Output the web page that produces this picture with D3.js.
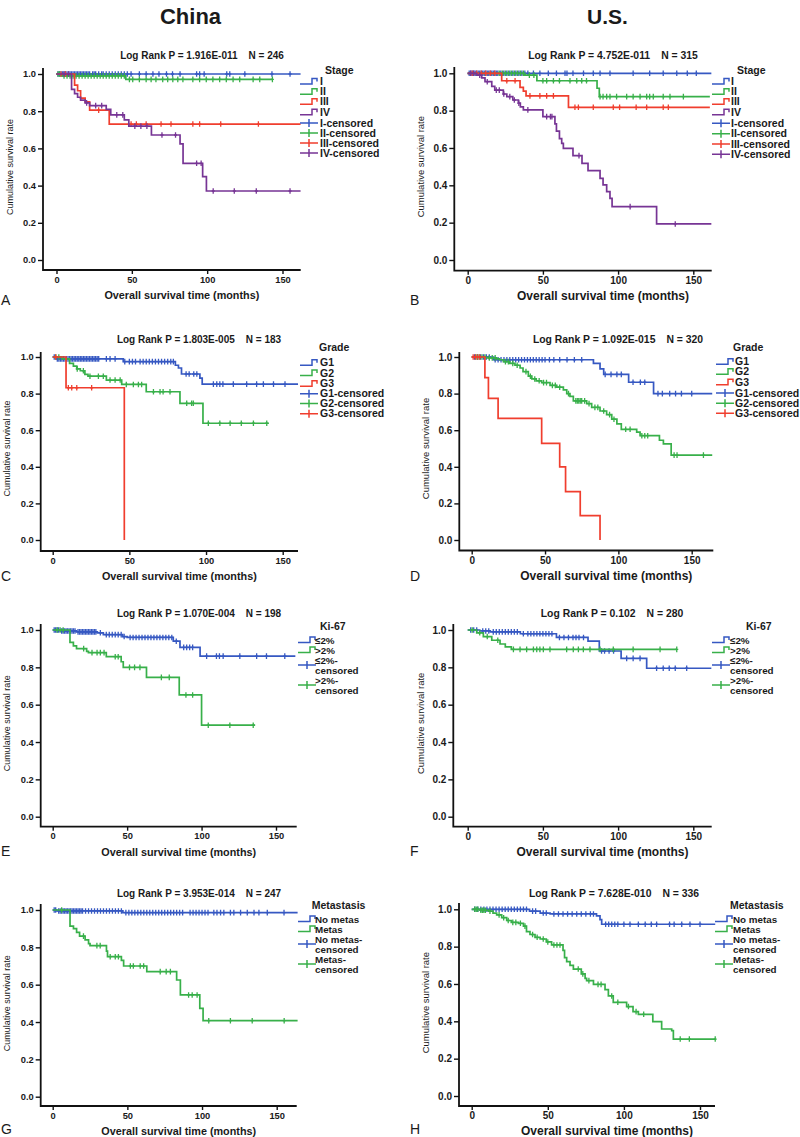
<!DOCTYPE html>
<html><head><meta charset="utf-8">
<script src="https://cdn.jsdelivr.net/npm/d3@7"></script>
<style>
body{margin:0;background:#fff}
svg{display:block}
text{font-family:"Liberation Sans",Arial,sans-serif;fill:#1a1a1a}
</style>
</head><body>
<svg id="chart" width="800" height="1137"></svg>
<script>
// ---------------- DATA ----------------
const xTicks = [0, 50, 100, 150];
const yTicks = [0.0, 0.2, 0.4, 0.6, 0.8, 1.0];
const columnTitles = ["China", "U.S."];

// Panel A: China, Stage
const A_I_steps = [[0,1]];
const A_I_end = 162;
const A_I_censored = [1,2,3,4,5,6,7,8,9,10,11,12,13,14,15,16,17,18,19,20,21,22,24,25,26,28,30,31,33,35,37,39,41,43,45,47,49.5,55,59.5,64,68,73,77,82,93,95,98,113,115,125,143,155];
const A_II_steps = [[0,1],[3,0.99],[46,0.971]];
const A_II_end = 143.3;
const A_II_censored = [1,2,5,7,9,11,13,15,17,19,21,23,25,27,29,31,33,35,37,39,41,43,45,48.4,50.6,55,59.5,62.8,66,70.5,73.8,77.2,80.5,83.9,90.5,95,99.4,103.8,108.3,112.7,117.2,121.6,130.5,134.9,143.3];
const A_III_steps = [[0,1],[12,0.94],[14,0.91],[16,0.87],[19,0.85],[22,0.806],[35,0.731]];
const A_III_end = 162;
const A_III_censored = [3,6,28,49.5,53,59.5,69.4,76,90.5,95,109,134];
const A_IV_steps = [[0,1],[10,0.917],[12,0.895],[14,0.875],[16,0.86],[19,0.845],[22,0.83],[33,0.81],[36,0.78],[45,0.753],[48,0.72],[63,0.672],[82,0.624],[84,0.52],[97,0.448],[99.5,0.371]];
const A_IV_end = 162;
const A_IV_censored = [5,8,20,26,30,40,44,52,56,60,70,79,93,96,104,118,132.6,155];

// Panel B: U.S., Stage
const B_I_steps = [[0,1]];
const B_I_end = 162;
const B_I_censored = [1,2,3,4,5,6,7,8,9,10,11,12,13,14,15,16,17,18,19,20,22,24,26,28,30,32,34,36,38,40,43.7,48,53.6,59,64.7,66,70,77,83.5,88,94.6,110,121,130,139,146,152];
const B_II_steps = [[0,1],[38,0.99],[46,0.96],[86,0.92],[87.5,0.875]];
const B_II_end = 161;
const B_II_censored = [21,23,25,27,29,31,33,35,37,41,44,50,52.5,57,61,68,72.5,75.8,79,88,90,92.4,94.6,99,105.7,110,114.6,119,121,123.4,130,134.5,143.4];
const B_III_steps = [[0,1],[22.6,0.96],[34.8,0.925],[37,0.905],[38.8,0.879],[67,0.818]];
const B_III_end = 161;
const B_III_censored = [3,6,9,12,15,18,26,31.5,41.4,48,52.5,57,71.3,73.6,83.5,96.8,101,112,119,130,133.4];
const B_IV_steps = [[0,1],[6,0.99],[9.3,0.975],[11.5,0.955],[16,0.93],[18,0.91],[23.7,0.889],[26,0.875],[30,0.857],[33.7,0.84],[35,0.82],[37,0.804],[50,0.768],[58,0.729],[59,0.69],[61,0.65],[62.5,0.625],[63.6,0.598],[70,0.559],[76,0.518],[80,0.479],[88,0.4375],[90,0.402],[92.4,0.366],[94.6,0.33],[96,0.286],[125.6,0.193]];
const B_IV_end = 162;
const B_IV_censored = [2,4,8,13,19,21,24,28,31,34,40,52.5,55,56,74,108,138];

// Panel C: China, Grade
const C_G1_steps = [[0,1],[2.6,0.99],[46,0.975],[80,0.955],[82,0.94],[84,0.907],[96,0.885],[97.5,0.852]];
const C_G1_end = 160;
const C_G1_censored = [1,3,4,5,6,7,8,9,10,11,12,13,14,15,16,17,18,19,20,21,22,23,24,25,26,27,28,29,30,35,37.4,40.7,47,50,52,54,57,59,61,63,65,67,69,71,73,75,77,78.7,87,89,92,94,104.8,107,109,111,117.8,126.5,133,137.4,144,151.5];
const C_G2_steps = [[0,1],[6,0.99],[11,0.965],[13.5,0.95],[15.7,0.935],[18,0.925],[21,0.905],[23,0.895],[35,0.874],[45,0.85],[61,0.81],[83,0.747],[98,0.638]];
const C_G2_end = 141;
const C_G2_censored = [2,4,16,20,24.3,29.8,33,37.4,40.7,44,48,52.6,55.9,58,65.7,70,72,76.5,87.4,90.6,91.7,101.5,109,115.7,123,130.9,139.6];
const C_G3_steps = [[0,1],[8.7,0.832],[46.7,0]];
const C_G3_end = 46.7;
const C_G3_censored = [2,10.2,12.4,15.7,25.4];

// Panel D: U.S., Grade
const D_G1_steps = [[0,1],[15,0.985],[83,0.965],[87.5,0.935],[90,0.905],[107,0.862],[124,0.80]];
const D_G1_end = 164;
const D_G1_censored = [2,4,6,8,10,12,16,18,20,22,24,26,28,30,32,34,36,38,40,42,44,46,48,50,53,56,60,65,70,75,91,95,99,102,110,115,118,127,130,135,139,143,150];
const D_G2_steps = [[0,1],[10,0.995],[17,0.99],[19,0.985],[21.6,0.975],[26,0.965],[29.5,0.955],[33,0.94],[35,0.92],[38.6,0.895],[41,0.88],[44,0.87],[47.7,0.86],[53.4,0.845],[58,0.835],[62.5,0.82],[64.8,0.80],[67,0.785],[69.3,0.76],[78.4,0.745],[81.8,0.725],[87.5,0.705],[92,0.685],[95.5,0.66],[99,0.635],[102,0.605],[112.5,0.59],[114.8,0.57],[128,0.545],[130.7,0.525],[136,0.464]];
const D_G2_end = 164;
const D_G2_censored = [3,5,7,9,12,14,16,23,25,28,31,37,40,43,46,49,51,55,57,60,66,71,72,73,74,75,77,80,84,86,90,94,97,105,108,116,118,120,138,140,158];
const D_G3_steps = [[0,1],[9,0.887],[11.4,0.774],[18,0.665],[47.7,0.528],[60,0.40],[64,0.264],[74,0.133],[87.5,0]];
const D_G3_end = 87.5;
const D_G3_censored = [1,2.5,4,5.5];

// Panel E: China, Ki-67
const E_low_steps = [[0,1],[5,0.995],[16,0.99],[30,0.985],[34,0.975],[47,0.965],[50,0.96],[81,0.94],[85.5,0.907],[99,0.86]];
const E_low_end = 163;
const E_low_censored = [1,2,3,4,6,7,8,9,10,11,12,13,14,15,17,18,19,20,21,22,23,24,25,26,27,28,29,32,36,38,40,42,44,46,48,52,54,56,58,60,62,64,66,68,70,72,74,76,78,80,83,88,90,92,94,103.4,110,112,114.5,125.7,137,143.6,155.9];
const E_high_steps = [[0,1],[11.6,0.934],[13.9,0.915],[16,0.90],[22.8,0.885],[24,0.879],[36,0.857],[46,0.83],[47.4,0.80],[63,0.746],[85,0.652],[100,0.49]];
const E_high_end = 136;
const E_high_censored = [3,5,7,20.8,26.4,29.8,32,34.5,42,44,51.6,55,58.6,73,78.3,89.5,94,104.5,119,134.7];

// Panel F: U.S., Ki-67
const F_low_steps = [[0,1],[8,0.995],[15,0.99],[35,0.98],[59,0.96],[80,0.94],[87.5,0.8875],[102,0.848],[119,0.795]];
const F_low_end = 162;
const F_low_censored = [2,4,6,10,12,14,17,19,21,23,25,27,29,31,33,37,40,42,44,46,48,50,52,54,56,61,64,67,70,72,74,77,89,91,94,97,105.7,110,114.6,125.6,130,134,138,145.6];
const F_high_steps = [[0,1],[6,0.985],[10.4,0.965],[16,0.945],[21.5,0.925],[25,0.91],[29,0.896]];
const F_high_end = 139;
const F_high_censored = [3,8,13,20,30.4,34.8,39.2,43.7,45.9,48,50.3,54.7,65.8,70.2,73.6,76.9,81.3,88,96.8,110,127.9,139];

// Panel G: China, Metastasis
const G_no_steps = [[0,1],[2.7,0.995],[47,0.986]];
const G_no_end = 164;
const G_no_censored = [1,2,4,5,6,7,8,9,10,11,12,13,14,15,16,17,18,19,20,22,24,26,28,30,32,34,36,38,40,42,44,46,49,51,53,55,57,59,61,63,65,67,69,71,73,75,77,79,81,83,85,87,92,94,96,98,100,102,104,107.9,110,112.4,114.6,119,121.3,125.8,130.3,134.8,138.1,143.7,154.9];
const G_metas_steps = [[0,1],[11.6,0.914],[13.9,0.90],[16,0.88],[18,0.86],[21.7,0.84],[24,0.82],[25,0.809],[36,0.78],[36.7,0.75],[46,0.73],[47.5,0.70],[63,0.67],[83,0.625],[85.5,0.545],[98.5,0.473],[100.7,0.407]];
const G_metas_end = 164;
const G_metas_censored = [6,20.6,29.6,31.8,38.5,41.9,44,52,54,58.6,60.9,72,76,78.8,91,93.4,96.7,104.5,119,133.6,155];

// Panel H: U.S., Metastasis
const H_no_steps = [[0,1],[38,0.99],[45,0.98],[51.5,0.975],[82,0.965],[84.3,0.945],[85.4,0.92]];
const H_no_end = 160;
const H_no_censored = [2,4,6,8,10,12,14,16,18,20,22,24,26,28,30,32,34,36,40,42,47,49,54,57,60,63,66,69,72,75,78,80,88,90,92,94,96,100,104,109.5,114,118,121.5,130,133,138,143.4,150];
const H_metas_steps = [[0,1],[5.5,0.995],[11,0.99],[14,0.98],[16.4,0.97],[19.7,0.955],[23,0.94],[26,0.93],[30.7,0.925],[34,0.91],[36,0.88],[38.3,0.865],[41.6,0.85],[45,0.841],[49,0.825],[52.5,0.809],[60,0.78],[61,0.741],[62.4,0.72],[64.6,0.70],[66.8,0.68],[72,0.654],[74.5,0.63],[75.5,0.618],[80,0.598],[87.6,0.57],[89.8,0.536],[93,0.502],[101.8,0.479],[106,0.452],[109.5,0.4375],[119,0.398],[124.8,0.359],[131.4,0.35],[132.5,0.305]];
const H_metas_end = 160;
const H_metas_censored = [2,3,4,6,7,8,9,12,18,21,24,27,29,32,35,40,43,47,50,54,56,58,70,73,77,83,85,92,96,103,108,113,137,143,160];

// ---------------- STYLE / LAYOUT ----------------
const COL = {blue:"#3658c2", green:"#38b04a", red:"#f03e2e", purple:"#773595"};

const panels = [
 {letter:"A", col:0, logP:"1.916E-011", N:"246", legTitle:"Stage",
  series:[{name:"I",s:A_I_steps,e:A_I_end,c:A_I_censored,col:COL.blue},{name:"II",s:A_II_steps,e:A_II_end,c:A_II_censored,col:COL.green},{name:"III",s:A_III_steps,e:A_III_end,c:A_III_censored,col:COL.red},{name:"IV",s:A_IV_steps,e:A_IV_end,c:A_IV_censored,col:COL.purple}],
  L:{axisX:43,p0:56.5,p150:282.5,y1:74,y0:260,xAxisY:270,xEnd:300.7,yTop:68,letterY:305,ylabX:10,
     lrX:202,lrY:58.5, legTX:325,legTY:74,symX:300,txtX:320, rows:[81.5,91.7,101.7,112.3,123,133,143,153], twoLine:false}},
 {letter:"B", col:1, logP:"4.752E-011", N:"315", legTitle:"Stage",
  series:[{name:"I",s:B_I_steps,e:B_I_end,c:B_I_censored,col:COL.blue},{name:"II",s:B_II_steps,e:B_II_end,c:B_II_censored,col:COL.green},{name:"III",s:B_III_steps,e:B_III_end,c:B_III_censored,col:COL.red},{name:"IV",s:B_IV_steps,e:B_IV_end,c:B_IV_censored,col:COL.purple}],
  L:{axisX:454.3,p0:467.7,p150:693.3,y1:73.3,y0:260,xAxisY:270.7,xEnd:711.7,yTop:67,letterY:305,ylabX:421,
     lrX:613,lrY:58.5, legTX:737,legTY:74,symX:712,txtX:731, rows:[81.5,91.7,101.7,112.3,123.3,133.7,144,154.3], twoLine:false}},
 {letter:"C", col:0, logP:"1.803E-005", N:"183", legTitle:"Grade",
  series:[{name:"G1",s:C_G1_steps,e:C_G1_end,c:C_G1_censored,col:COL.blue},{name:"G2",s:C_G2_steps,e:C_G2_end,c:C_G2_censored,col:COL.green},{name:"G3",s:C_G3_steps,e:C_G3_end,c:C_G3_censored,col:COL.red}],
  L:{axisX:40.7,p0:52.7,p150:282.7,y1:357,y0:540,xAxisY:551,xEnd:298,yTop:352,letterY:581,ylabX:7,
     lrX:199,lrY:343, legTX:319,legTY:351,symX:300,txtX:320, rows:[362.7,373,383.7,393.7,403.5,413.7], twoLine:false}},
 {letter:"D", col:1, logP:"1.092E-015", N:"320", legTitle:"Grade",
  series:[{name:"G1",s:D_G1_steps,e:D_G1_end,c:D_G1_censored,col:COL.blue},{name:"G2",s:D_G2_steps,e:D_G2_end,c:D_G2_censored,col:COL.green},{name:"G3",s:D_G3_steps,e:D_G3_end,c:D_G3_censored,col:COL.red}],
  L:{axisX:459.3,p0:471.7,p150:691.7,y1:357,y0:540,xAxisY:550.5,xEnd:713.3,yTop:352,letterY:581,ylabX:426,
     lrX:618,lrY:343, legTX:733,legTY:351,symX:716,txtX:735, rows:[361.7,371.7,382.3,393,403.3,413.3], twoLine:false}},
 {letter:"E", col:0, logP:"1.070E-004", N:"198", legTitle:"Ki-67",
  series:[{name:"≤2%",s:E_low_steps,e:E_low_end,c:E_low_censored,col:COL.blue},{name:">2%",s:E_high_steps,e:E_high_end,c:E_high_censored,col:COL.green}],
  L:{axisX:40.7,p0:52.7,p150:276,y1:630,y0:816.7,xAxisY:826.7,xEnd:296.7,yTop:624,letterY:856,ylabX:7,
     lrX:199,lrY:616.5, legTX:320,legTY:630,symX:298,txtX:315, rows:[640,650,665,685], twoLine:true}},
 {letter:"F", col:1, logP:"0.102", N:"280", legTitle:"Ki-67",
  series:[{name:"≤2%",s:F_low_steps,e:F_low_end,c:F_low_censored,col:COL.blue},{name:">2%",s:F_high_steps,e:F_high_end,c:F_high_censored,col:COL.green}],
  L:{axisX:453.3,p0:467.7,p150:693.3,y1:630,y0:816.7,xAxisY:826.7,xEnd:711.7,yTop:624,letterY:856,ylabX:421,
     lrX:612,lrY:616.5, legTX:746,legTY:630,symX:712,txtX:730, rows:[640,650,665,685], twoLine:true}},
 {letter:"G", col:0, logP:"3.953E-014", N:"247", legTitle:"Metastasis",
  series:[{name:"No metas",s:G_no_steps,e:G_no_end,c:G_no_censored,col:COL.blue},{name:"Metas",s:G_metas_steps,e:G_metas_end,c:G_metas_censored,col:COL.green}],
  L:{axisX:40.7,p0:52.7,p150:276.7,y1:910,y0:1096.7,xAxisY:1106,xEnd:296.7,yTop:904,letterY:1134,ylabX:7,
     lrX:199,lrY:897, legTX:311.7,legTY:909,symX:298,txtX:315, rows:[919,929,944,964], twoLine:true}},
 {letter:"H", col:1, logP:"7.628E-010", N:"336", legTitle:"Metastasis",
  series:[{name:"No metas",s:H_no_steps,e:H_no_end,c:H_no_censored,col:COL.blue},{name:"Metas",s:H_metas_steps,e:H_metas_end,c:H_metas_censored,col:COL.green}],
  L:{axisX:459,p0:471.7,p150:700,y1:909.3,y0:1096,xAxisY:1106,xEnd:715,yTop:903,letterY:1134,ylabX:426,
     lrX:614,lrY:897, legTX:730,legTY:909,symX:715,txtX:733, rows:[919,929,944,964], twoLine:true}}
];

// ---------------- DRAW ----------------
const svg = d3.select("#chart");

svg.append("text").attr("x",190.5).attr("y",24).attr("text-anchor","middle")
  .attr("font-size",22).attr("font-weight","bold").attr("fill","#111").text(columnTitles[0]);
svg.append("text").attr("x",607.5).attr("y",24).attr("text-anchor","middle")
  .attr("font-size",21).attr("font-weight","bold").attr("fill","#111").text(columnTitles[1]);

function stepAt(steps, t){ let v = steps[0][1]; for (const [tt,vv] of steps){ if (tt <= t) v = vv; } return v; }

panels.forEach(p => {
  const L = p.L;
  const g = svg.append("g");
  const tickFont = p.col === 0 ? 9.3 : 10;
  const LEG_FS = L.twoLine ? 9.8 : 10.5;
  const x = d3.scaleLinear().domain([0,150]).range([L.p0, L.p150]);
  const y = d3.scaleLinear().domain([0,1]).range([L.y0, L.y1]);

  // axes
  const ya = g.append("g").attr("transform",`translate(${L.axisX},0)`)
    .call(d3.axisLeft(y).tickValues(yTicks).tickFormat(d3.format(".1f")).tickSize(5).tickPadding(2).tickSizeOuter(0));
  const xa = g.append("g").attr("transform",`translate(0,${L.xAxisY})`)
    .call(d3.axisBottom(x).tickValues(xTicks).tickFormat(d3.format("d")).tickSize(4).tickPadding(2).tickSizeOuter(0));
  [ya, xa].forEach(a => {
    a.select(".domain").remove();
    a.selectAll(".tick line").attr("stroke","#111").attr("stroke-width",1.4);
    a.selectAll(".tick text").attr("font-size",tickFont).attr("font-weight","bold").attr("fill","#222")
      .attr("font-family",'"Liberation Sans",Arial,sans-serif');
  });
  g.append("path").attr("d",`M${L.axisX},${L.yTop}V${L.xAxisY}H${L.xEnd}`)
    .attr("fill","none").attr("stroke","#111").attr("stroke-width",1.8);

  // axis labels
  const xlabCx = p.col===0 ? (L.axisX+L.xEnd)/2 + 10 : (L.axisX+L.xEnd)/2 + 20;
  g.append("text").attr("x",xlabCx).attr("y",L.xAxisY+29).attr("text-anchor","middle")
    .attr("font-size",p.col===0?10.8:12).attr("font-weight","bold").attr("fill","#222").text("Overall survival time (months)");
  const ymid = (L.y0+L.y1)/2;
  g.append("text").attr("transform",`translate(${L.ylabX+3},${ymid}) rotate(-90)`).attr("text-anchor","middle")
    .attr("font-size",p.col===0?9:9.5).attr("fill","#222").text("Cumulative survival rate");

  // panel letter
  g.append("text").attr("x",p.col===0?1:410).attr("y",L.letterY).attr("font-size",14).attr("fill","#111").text(p.letter);

  // log rank header
  const lr = g.append("text").attr("x",L.lrX).attr("y",L.lrY).attr("text-anchor","middle")
    .attr("font-size",p.col===0?10:10.4).attr("font-weight","bold").attr("fill","#222");
  lr.append("tspan").text(`Log Rank P = ${p.logP}`);
  lr.append("tspan").attr("dx",11).text(`N = ${p.N}`);

  // curves
  const line = d3.line().x(d=>x(d[0])).y(d=>y(d[1])).curve(d3.curveStepAfter);
  p.series.forEach(s => {
    const pts = s.s.concat([[s.e, s.s[s.s.length-1][1]]]);
    g.append("path").attr("d",line(pts)).attr("fill","none").attr("stroke",s.col).attr("stroke-width",1.7);
    g.append("g").selectAll("path").data(s.c).join("path")
      .attr("d",t => { const cx = x(t), cy = y(stepAt(s.s,t)); return `M${cx},${cy-2.8}V${cy+2.8}M${cx-1.5},${cy}H${cx+1.5}`; })
      .attr("stroke",s.col).attr("stroke-width",1.3).attr("fill","none");
  });

  // legend
  g.append("text").attr("x",L.legTX).attr("y",L.legTY).attr("font-size",10.5).attr("font-weight","bold").attr("fill","#222").text(p.legTitle);
  const k = p.series.length;
  p.series.forEach((s,i) => {
    const cy = L.rows[i];
    g.append("path").attr("d",`M${L.symX},${cy+2.5}H${L.symX+12}V${cy-3}H${L.symX+17}V${cy}`)
      .attr("fill","none").attr("stroke",s.col).attr("stroke-width",1.5);
    g.append("text").attr("x",L.txtX).attr("y",cy+3.5).attr("font-size",LEG_FS).attr("font-weight","bold").attr("fill","#222").text(s.name);
  });
  p.series.forEach((s,i) => {
    const cy = L.rows[k+i];
    g.append("path").attr("d",`M${L.symX},${cy}H${L.symX+18}M${L.symX+9},${cy-4}V${cy+4}`)
      .attr("fill","none").attr("stroke",s.col).attr("stroke-width",1.5);
    if (L.twoLine){
      g.append("text").attr("x",L.txtX).attr("y",cy-5+3.5).attr("font-size",LEG_FS).attr("font-weight","bold").attr("fill","#222").text(s.name+"-");
      g.append("text").attr("x",L.txtX).attr("y",cy+5+3.5).attr("font-size",LEG_FS).attr("font-weight","bold").attr("fill","#222").text("censored");
    } else {
      g.append("text").attr("x",L.txtX).attr("y",cy+3.5).attr("font-size",LEG_FS).attr("font-weight","bold").attr("fill","#222").text(s.name+"-censored");
    }
  });
});
</script>
</body></html>
